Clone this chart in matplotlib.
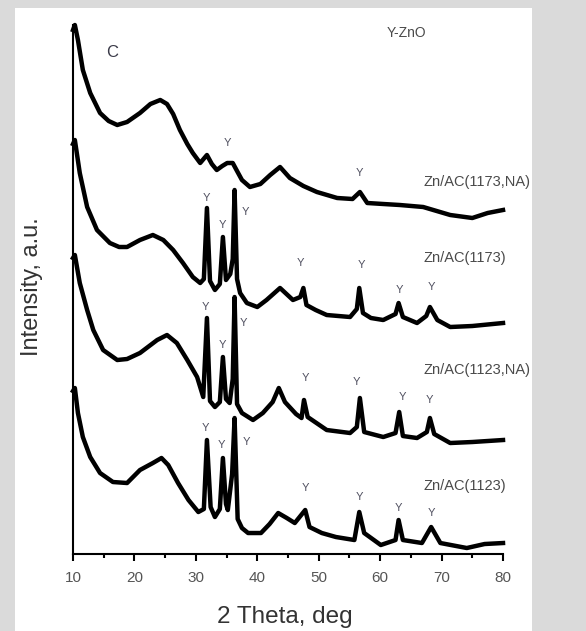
import matplotlib.pyplot as plt
from matplotlib.patches import Rectangle
from matplotlib.ticker import MultipleLocator

plt.rcParams['font.family'] = ['Liberation Sans', 'DejaVu Sans']

# 2 Theta (deg) and intensity (a.u., stacked)
theta_1173_na = [10.0, 10.3, 10.8, 11.6, 12.8, 14.4, 15.8, 17.2, 18.8, 20.9, 22.6, 24.2, 25.3, 26.3,
                 27.4, 28.6, 29.5, 30.7, 31.8, 32.6, 33.4, 34.3, 35.1, 36.0, 36.7, 37.5, 38.8, 40.5,
                 42.1, 43.7, 45.3, 47.5, 49.7, 53.0, 55.5, 56.7, 57.9, 60.5, 63.2, 67.0, 71.4, 75.0,
                 77.5, 80.0]
int_1173_na = [524, 529, 514, 484, 461, 441, 433, 429, 432, 441, 450, 454, 450, 440,
               424, 410, 401, 391, 399, 390, 384, 388, 391, 391, 383, 374, 367, 370,
               379, 387, 376, 368, 362, 356, 355, 362, 351, 350, 349, 347, 339, 336,
               341, 344]

theta_1173 = [10.0, 10.3, 11.1, 12.3, 13.9, 16.0, 17.5, 18.8, 20.9, 23.0, 24.7, 26.3, 27.9, 29.5,
              30.7, 31.3, 31.8, 32.3, 33.1, 33.9, 34.4, 34.9, 35.6, 36.0, 36.3, 36.7, 37.2, 38.3,
              40.0, 41.5, 43.7, 45.8, 47.0, 47.5, 48.0, 49.5, 51.3, 55.1, 56.2, 56.6, 57.2, 58.5,
              60.5, 62.5, 63.0, 63.7, 66.0, 67.5, 68.1, 69.3, 71.4, 75.0, 80.0]
int_1173 = [410, 414, 381, 347, 324, 311, 307, 307, 314, 319, 314, 304, 291, 277,
            271, 275, 346, 273, 264, 270, 317, 274, 280, 295, 364, 275, 261, 251,
            247, 254, 266, 254, 257, 266, 249, 244, 239, 237, 245, 266, 241, 236,
            234, 240, 251, 237, 231, 238, 247, 234, 227, 228, 231]

theta_1123_na = [10.0, 10.3, 11.1, 12.3, 13.3, 14.9, 17.2, 18.8, 20.9, 23.7, 25.3, 26.9, 28.6, 30.2,
                 31.2, 31.8, 32.3, 33.1, 33.9, 34.4, 34.9, 35.5, 36.0, 36.3, 36.7, 37.5, 39.3, 40.9,
                 42.5, 43.5, 44.5, 46.3, 47.2, 47.6, 48.2, 51.3, 55.1, 56.2, 56.7, 57.4, 60.5, 62.5,
                 63.1, 63.7, 66.0, 67.6, 68.1, 68.8, 71.4, 75.0, 80.0]
int_1123_na = [296, 299, 271, 244, 224, 204, 194, 195, 201, 214, 219, 211, 194, 177,
               157, 236, 153, 147, 152, 197, 155, 151, 175, 257, 150, 141, 134, 141,
               152, 166, 152, 140, 136, 154, 137, 124, 121, 127, 156, 122, 117, 121,
               142, 118, 116, 122, 136, 120, 111, 112, 114]

theta_1123 = [10.0, 10.3, 10.8, 11.6, 12.8, 14.4, 16.5, 18.8, 20.9, 23.0, 24.4, 25.5, 27.1, 28.8,
              30.4, 31.3, 31.8, 32.4, 33.1, 33.9, 34.4, 34.9, 35.2, 35.9, 36.3, 36.8, 37.5, 38.5,
              40.6, 42.0, 43.4, 44.8, 46.1, 47.8, 48.5, 50.5, 52.8, 55.8, 56.6, 57.4, 60.1, 62.5,
              63.0, 63.7, 66.8, 68.3, 69.8, 74.1, 77.0, 80.0]
int_1123 = [163, 166, 141, 117, 97, 81, 72, 71, 84, 91, 96, 89, 71, 54,
            42, 45, 114, 47, 37, 45, 96, 50, 44, 80, 136, 35, 26, 21,
            21, 30, 41, 36, 31, 44, 27, 21, 17, 14, 42, 21, 9, 14,
            34, 14, 11, 27, 11, 6, 10, 11]

sample_labels = ['Zn/AC(1173,NA)', 'Zn/AC(1173)', 'Zn/AC(1123,NA)', 'Zn/AC(1123)']
sample_label_y = [372, 296, 184, 68]

# "Y" markers for the ZnO reflections
mark_theta = [35.2, 56.7,
              31.8, 34.4, 38.0, 47.0, 57.0, 63.2, 68.4,
              31.5, 34.4, 37.7, 47.8, 56.2, 63.6, 68.1,
              31.5, 34.1, 38.3, 47.8, 56.6, 63.0, 68.3]
mark_y = [411, 381,
          356, 329, 342, 291, 289, 264, 267,
          247, 209, 231, 176, 172, 157, 154,
          126, 109, 112, 66, 57, 46, 41]

fig = plt.figure(figsize=(5.86, 6.31), dpi=100, facecolor='#dadada')
fig.patches.append(Rectangle((0.0256, 0.0), 0.8822, 0.987, transform=fig.transFigure,
                             facecolor='white', edgecolor='none', zorder=-5))

ax = fig.add_axes([0.1246, 0.1220, 0.7338, 0.8384])
ax.set_facecolor('none')
ax.set_zorder(2)

for th, inten in [(theta_1173_na, int_1173_na), (theta_1173, int_1173),
                  (theta_1123_na, int_1123_na), (theta_1123, int_1123)]:
    ax.plot(th, inten, color='black', lw=3.2, solid_joinstyle='round', clip_on=False)

for t, y in zip(mark_theta, mark_y):
    ax.text(t, y, 'Y', fontsize=8, color='#505060', ha='center', va='center')

for lab, y in zip(sample_labels, sample_label_y):
    ax.text(67.1, y, lab, fontsize=10.5, color='#4a4a4a', ha='left', va='center', clip_on=False)

ax.text(61.0, 521, 'Y-ZnO', fontsize=10, color='#4a4a4a', ha='left', va='center')
ax.text(16.3, 501, 'C', fontsize=12, color='#3a3a48', ha='center', va='center')

ax.set_xlim(10, 80)
ax.set_ylim(0, 529)
ax.xaxis.set_major_locator(MultipleLocator(10))
ax.xaxis.set_minor_locator(MultipleLocator(5))
ax.set_yticks([])
ax.spines['top'].set_visible(False)
ax.spines['right'].set_visible(False)
ax.spines['left'].set_linewidth(1.5)
ax.spines['bottom'].set_linewidth(1.5)
ax.tick_params(axis='x', which='major', direction='out', length=5, width=1.5,
               labelsize=11, labelcolor='#555555', pad=7)
ax.tick_params(axis='x', which='minor', direction='out', length=3, width=1.5)

fig.text(0.486, 0.022, '2 Theta, deg', fontsize=17.5, color='#333333', ha='center', va='center')
fig.text(0.054, 0.545, 'Intensity, a.u.', fontsize=17, color='#333333', ha='center', va='center',
         rotation=90)

fig.savefig('out.png', dpi=100, facecolor=fig.get_facecolor())
